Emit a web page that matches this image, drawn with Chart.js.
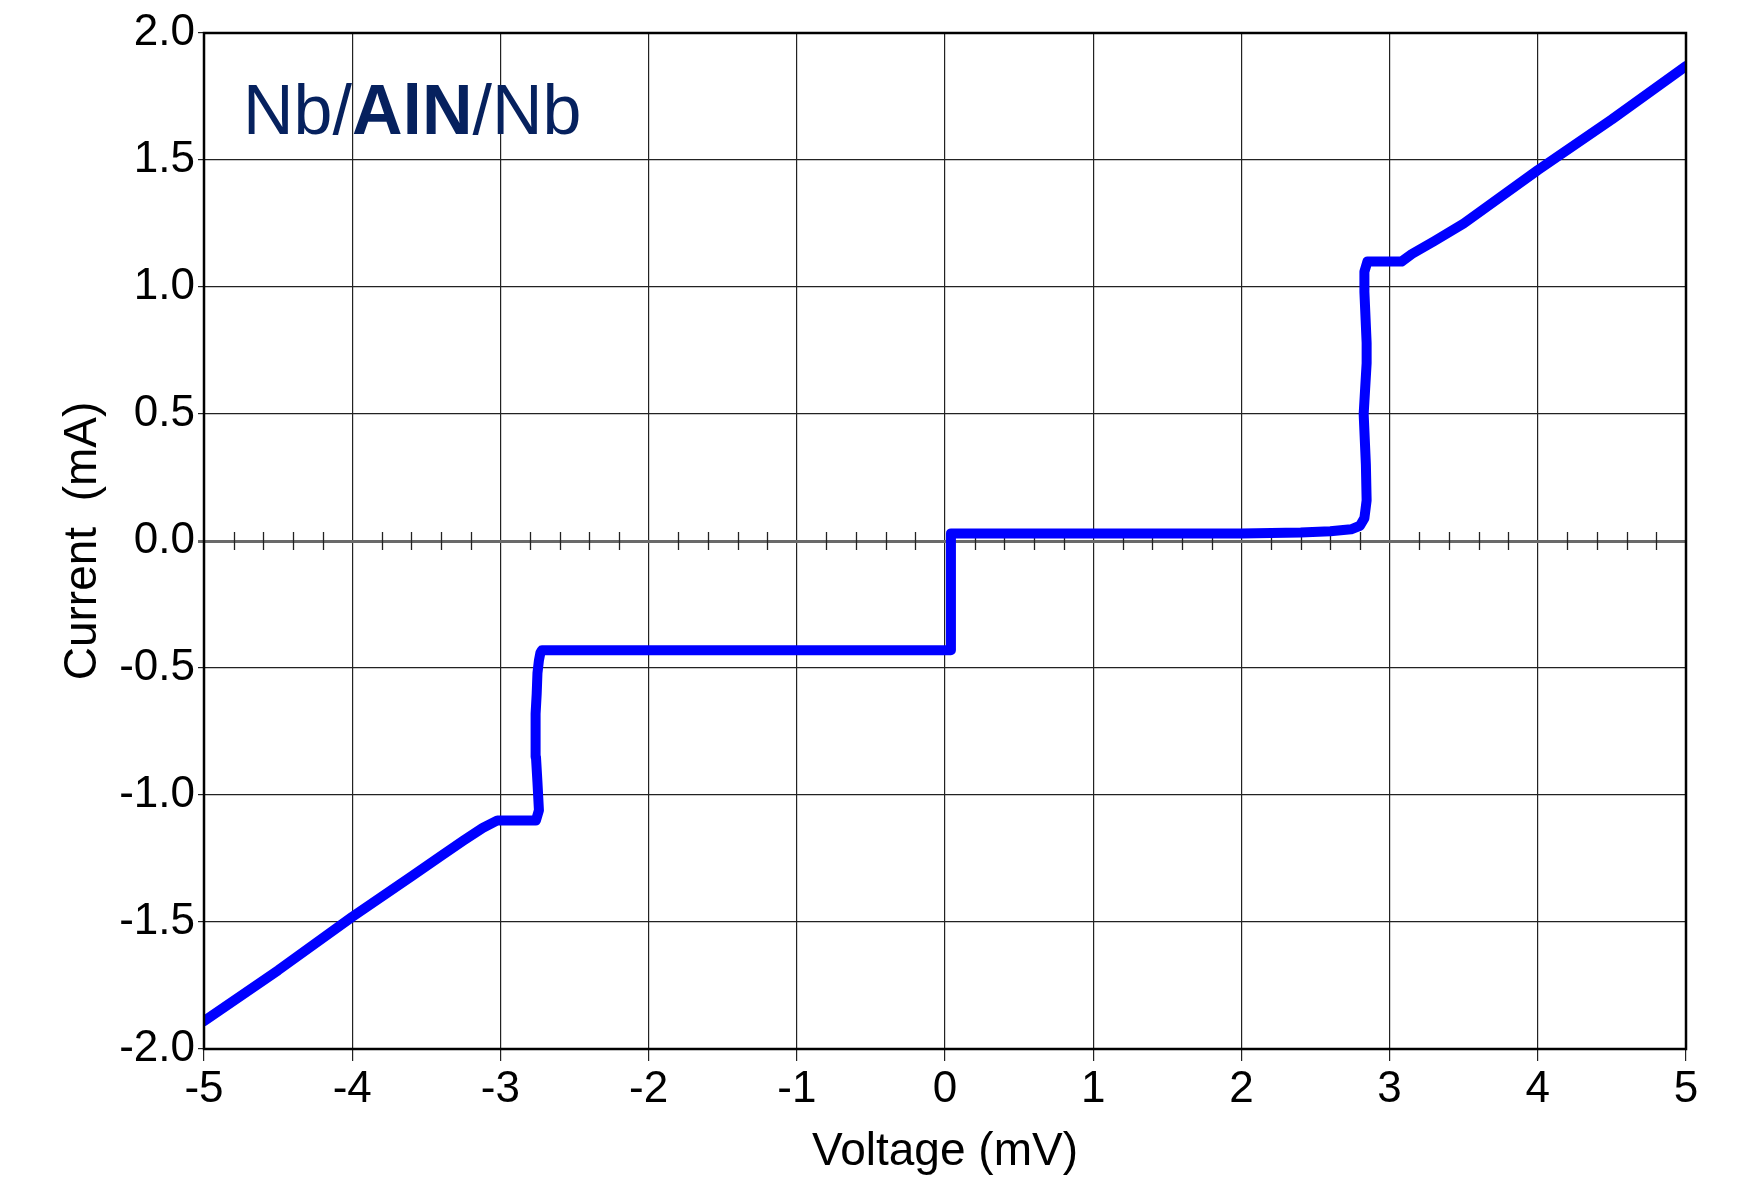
<!DOCTYPE html>
<html>
<head>
    <title>Nb/AlN/Nb I-V curve</title>
    <style>
        body {
            margin: 0;
            padding: 0;
            background-color: #fff;
        }
        #ivChart {
            display: block;
        }
    </style>
    <script src="https://cdn.jsdelivr.net/npm/chart.js"></script>
</head>
<body>
    <canvas id="ivChart" width="1750" height="1189"></canvas>

    <script>
        const voltage = [-5.00, -4.50, -4.00, -3.60, -3.40, -3.25, -3.12, -3.02, -2.95, -2.85, -2.76,
            -2.74, -2.75, -2.76, -2.765, -2.76, -2.755, -2.75, -2.74, -2.73, -2.72, -2.50, -2.00, -1.00,
            0.00, 0.04, 0.04, 0.04, 0.50, 1.00, 1.50, 2.00, 2.40, 2.60, 2.74, 2.80, 2.83, 2.845, 2.84,
            2.825, 2.835, 2.845, 2.845, 2.83, 2.83, 2.85, 2.95, 3.08, 3.15, 3.30, 3.50, 4.00, 4.50, 5.00];
        const current = [-1.89, -1.69, -1.48, -1.32, -1.24, -1.18, -1.13, -1.10, -1.10, -1.10, -1.10,
            -1.06, -0.95, -0.85, -0.75, -0.68, -0.60, -0.52, -0.47, -0.44, -0.43, -0.43, -0.43, -0.43,
            -0.43, -0.43, -0.20, 0.03, 0.03, 0.03, 0.03, 0.03, 0.033, 0.038, 0.046, 0.06, 0.09, 0.16, 0.30,
            0.50, 0.60, 0.70, 0.78, 0.98, 1.06, 1.10, 1.10, 1.10, 1.13, 1.18, 1.25, 1.46, 1.66, 1.87];

        const xTicks = [-5, -4, -3, -2, -1, 0, 1, 2, 3, 4, 5];
        const yTicks = [-2.0, -1.5, -1.0, -0.5, 0.0, 0.5, 1.0, 1.5, 2.0];
        const minorStep = 0.2;

        const points = voltage.map((v, i) => ({ x: v, y: current[i] }));

        const FONT = "'Liberation Sans', Arial, sans-serif";

        // frame around the plot, the minor ticks on the zero line and the sample label
        const extras = {
            id: "extras",
            beforeDatasetsDraw(chart) {
                const { ctx, scales } = chart;
                const y0 = scales.y.getPixelForValue(0);
                ctx.save();
                ctx.strokeStyle = "#222";
                ctx.lineWidth = 1.3;
                for (let v = xTicks[0] + minorStep; v < xTicks[xTicks.length - 1]; v += minorStep) {
                    if (Math.abs(v - Math.round(v)) < 1e-6) continue;
                    const px = Math.round(scales.x.getPixelForValue(v)) + 0.5;
                    ctx.beginPath();
                    ctx.moveTo(px, y0 - 9);
                    ctx.lineTo(px, y0 + 9);
                    ctx.stroke();
                }
                ctx.restore();
            },
            afterDraw(chart) {
                const { ctx, chartArea } = chart;
                ctx.save();
                ctx.strokeStyle = "#000";
                ctx.lineWidth = 2.5;
                ctx.strokeRect(chartArea.left, chartArea.top, chartArea.right - chartArea.left, chartArea.bottom - chartArea.top);

                // "Nb/AlN/Nb" with the barrier in bold
                ctx.fillStyle = "#06215e";
                ctx.textBaseline = "alphabetic";
                let x = 243;
                const base = 134;
                const parts = [["Nb/", "normal"], ["AlN", "bold"], ["/Nb", "normal"]];
                parts.forEach(([txt, weight]) => {
                    ctx.font = weight + " 70px " + FONT;
                    ctx.fillText(txt, x, base);
                    x += ctx.measureText(txt).width;
                });
                ctx.restore();
            }
        };

        const ctx = document.getElementById("ivChart").getContext("2d");
        new Chart(ctx, {
            type: "scatter",
            data: {
                datasets: [{
                    data: points,
                    showLine: true,
                    borderColor: "#0000ff",
                    borderWidth: 10,
                    borderJoinStyle: "round",
                    borderCapStyle: "round",
                    pointRadius: 0,
                    tension: 0
                }]
            },
            options: {
                responsive: false,
                animation: false,
                layout: {
                    padding: { top: 33, right: 64, left: 56, bottom: 9 }
                },
                plugins: {
                    legend: { display: false },
                    tooltip: { enabled: false }
                },
                scales: {
                    x: {
                        type: "linear",
                        min: -5,
                        max: 5,
                        afterBuildTicks: (scale) => { scale.ticks = xTicks.map(v => ({ value: v })); },
                        afterFit: (scale) => { scale.height = 131; },
                        grid: {
                            color: "#222",
                            lineWidth: 1.2,
                            tickLength: 12,
                            drawTicks: true
                        },
                        border: { display: false },
                        ticks: {
                            color: "#000",
                            font: { family: FONT, size: 44 },
                            padding: 2,
                            callback: (v) => String(v)
                        },
                        title: {
                            display: true,
                            text: "Voltage (mV)",
                            color: "#000",
                            font: { family: FONT, size: 46 },
                            padding: { top: 0, bottom: 0 }
                        }
                    },
                    y: {
                        type: "linear",
                        min: -2,
                        max: 2,
                        afterBuildTicks: (scale) => { scale.ticks = yTicks.map(v => ({ value: v })); },
                        afterFit: (scale) => { scale.width = 148; },
                        grid: {
                            color: (c) => (c.tick && c.tick.value === 0 ? "#6a6a6a" : "#222"),
                            lineWidth: (c) => (c.tick && c.tick.value === 0 ? 3 : 1.2),
                            tickLength: 6
                        },
                        border: { display: false },
                        ticks: {
                            color: "#000",
                            font: { family: FONT, size: 44 },
                            padding: 3,
                            callback: (v) => Number(v).toFixed(1)
                        },
                        title: {
                            display: true,
                            text: "Current  (mA)",
                            color: "#000",
                            font: { family: FONT, size: 46 },
                            padding: { top: 0, bottom: 0 }
                        }
                    }
                }
            },
            plugins: [extras]
        });
    </script>
</body>
</html>
